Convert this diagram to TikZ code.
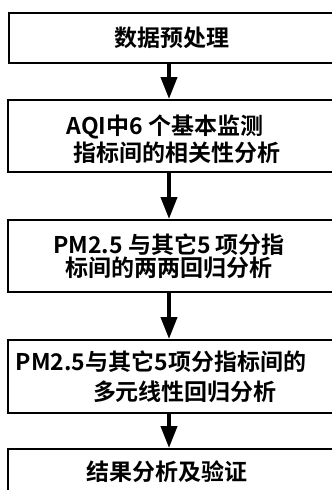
\documentclass[tikz,border=0pt]{standalone}
\usepackage{fontspec}
\setmainfont{Noto Sans CJK SC}[BoldFont={Noto Sans CJK SC Bold}]
\usetikzlibrary{arrows.meta}
\begin{document}
\begin{tikzpicture}[x=0.75pt,y=-0.75pt,
  box/.style={draw,line width=1.5pt,rectangle,inner sep=0pt,minimum width=#1},
  box/.default=244.5pt,
  txt/.style={inner sep=0pt,font=\fontsize{17.25}{20}\selectfont\bfseries},
  arr/.style={line width=3pt,-{Triangle[length=16.5pt,width=12pt]}}]
\useasboundingbox (0,0) rectangle (332,490);
\fill[white] (0,0) rectangle (332,490);
\coordinate (ax) at (169,0);
% boxes
\node[box=243.75pt,minimum height=37.5pt] (b1) at (171.5,38) {};
\node[box,minimum height=54pt] (b2) at (171,136) {};
\node[box,minimum height=54pt] (b3) at (171,256) {};
\node[box,minimum height=54.75pt] (b4) at (171,376.5) {};
\node[box=243.75pt,minimum height=34.5pt] (b5) at (170,472) {};
% texts
\node[txt] (t1) at (172,38) {数据预处理};
\node[txt] (t2a) at (165,127) {AQI中6 个基本监测};
\node[txt] (t2b) at (177,153) {指标间的相关性分析};
\node[txt] (t3a) at (169,245) {PM2.5 与其它5 项分指};
\node[txt] (t3b) at (169,268) {标间的两两回归分析};
\node[txt] (t4a) at (161,362) {PM2.5与其它5项分指标间的};
\node[txt] (t4b) at (185,392) {多元线性回归分析};
\node[txt] (t5) at (167,472) {结果分析及验证};
% arrows
\draw[arr] (b1.south -| ax) -- (b2.north -| ax);
\draw[arr] (b2.south -| ax) -- (b3.north -| ax);
\draw[arr] (b3.south -| ax) -- (b4.north -| ax);
\draw[arr] (b4.south -| ax) -- (b5.north -| ax);
\end{tikzpicture}
\end{document}
